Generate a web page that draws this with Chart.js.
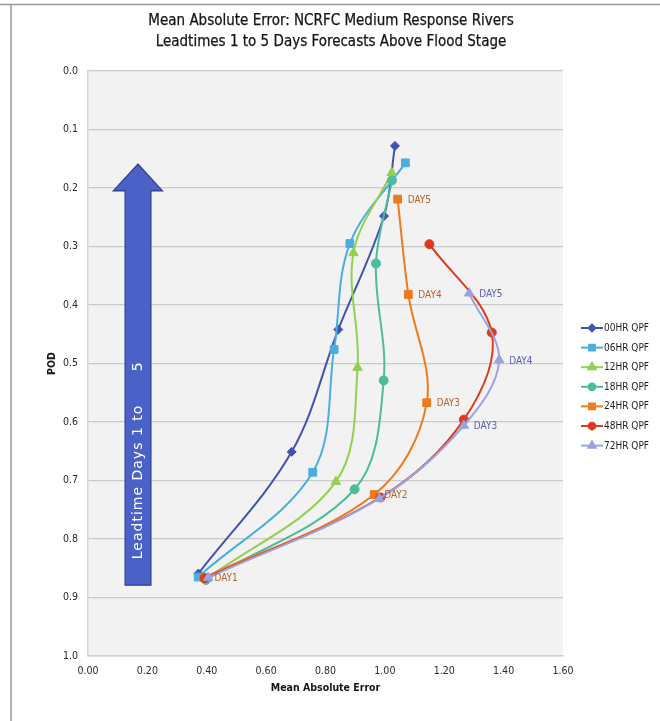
<!DOCTYPE html>
<html>
<head>
<meta charset="utf-8">
<script src="https://cdn.jsdelivr.net/npm/chart.js@4.4.1/dist/chart.umd.min.js"></script>
<style>
  html, body { margin: 0; padding: 0; background: #fff; }
  #wrap { width: 660px; height: 721px; position: relative; }
</style>
</head>
<body>
<div id="wrap"><canvas id="c" width="660" height="721"></canvas></div>
<script>
// Lead-time points are ordered DAY1 -> DAY5 (bottom to top of the chart).
const seriesNames = ['00HR QPF', '06HR QPF', '12HR QPF', '18HR QPF', '24HR QPF', '48HR QPF', '72HR QPF'];

const mae00 = [0.372, 0.686, 0.843, 0.997, 1.034];
const pod00 = [0.859, 0.651, 0.442, 0.248, 0.128];
const mae06 = [0.371, 0.757, 0.829, 0.882, 1.069];
const pod06 = [0.865, 0.686, 0.476, 0.295, 0.157];
const mae12 = [0.400, 0.835, 0.908, 0.894, 1.023];
const pod12 = [0.868, 0.702, 0.507, 0.311, 0.174];
const mae18 = [0.397, 0.898, 0.996, 0.970, 1.024];
const pod18 = [0.870, 0.715, 0.529, 0.329, 0.187];
const mae24 = [0.392, 0.964, 1.141, 1.079, 1.043];
const pod24 = [0.866, 0.724, 0.567, 0.382, 0.219];
const mae48 = [0.393, 0.985, 1.266, 1.360, 1.150];
const pod48 = [0.867, 0.729, 0.596, 0.447, 0.296];
const mae72 = [0.405, 0.981, 1.266, 1.385, 1.284];
const pod72 = [0.866, 0.731, 0.606, 0.494, 0.380];

const dayLabels24 = ['DAY1', 'DAY2', 'DAY3', 'DAY4', 'DAY5'];
const dayLabels72 = ['', '', 'DAY3', 'DAY4', 'DAY5'];

const xTickValues = [0, 0.2, 0.4, 0.6, 0.8, 1.0, 1.2, 1.4, 1.6];
const yTickValues = [0, 0.1, 0.2, 0.3, 0.4, 0.5, 0.6, 0.7, 0.8, 0.9, 1.0];

const maeSeries = [mae00, mae06, mae12, mae18, mae24, mae48, mae72];
const podSeries = [pod00, pod06, pod12, pod18, pod24, pod48, pod72];

const FONT = '"DejaVu Sans Condensed", "DejaVu Sans", sans-serif';
const colors = ['#4153b1', '#4aaede', '#92d050', '#4cbd9c', '#ee7a1e', '#df3a1f', '#9aa2e0'];
const styles = ['rectRot', 'rect', 'triangle', 'circle', 'rect', 'circle', 'triangle'];
const radii = [4.5, 5.5, 5.5, 4.5, 5.5, 4.5, 5.5];

const datasets = seriesNames.map((name, i) => ({
  label: name,
  data: maeSeries[i].map((x, k) => ({ x: x, y: podSeries[i][k] })),
  showLine: true,
  tension: 0.35,
  borderColor: colors[i],
  backgroundColor: colors[i],
  borderWidth: 2,
  pointStyle: styles[i],
  pointRadius: radii[i],
  pointHoverRadius: radii[i],
  pointBorderWidth: 1,
  order: seriesNames.length - 1 - i
}));

// Block arrow drawn inside the plot, in axis units
const arrowShape = { tipX: 0.168, tipY: 0.159, headL: 0.085, headR: 0.251, headBase: 0.205,
                     shaftL: 0.125, shaftR: 0.212, bottom: 0.879 };

const decor = {
  id: 'decor',
  beforeDraw(chart) {
    const { ctx, chartArea: a } = chart;
    ctx.save();
    ctx.fillStyle = '#ffffff';
    ctx.fillRect(0, 0, chart.width, chart.height);
    ctx.strokeStyle = '#999999';
    ctx.lineWidth = 1.5;
    ctx.beginPath();
    ctx.moveTo(0, 4.5); ctx.lineTo(chart.width, 4.5);
    ctx.moveTo(11, 4.5); ctx.lineTo(11, chart.height);
    ctx.stroke();
    ctx.fillStyle = '#f2f2f2';
    ctx.fillRect(a.left, a.top, a.right - a.left, a.bottom - a.top);
    ctx.restore();
  },
  beforeDatasetsDraw(chart) {
    const { ctx } = chart;
    const xs = chart.scales.x, ys = chart.scales.y;
    const X = v => xs.getPixelForValue(v), Y = v => ys.getPixelForValue(v);
    const s = arrowShape;
    ctx.save();
    ctx.beginPath();
    ctx.moveTo(X(s.tipX), Y(s.tipY));
    ctx.lineTo(X(s.headR), Y(s.headBase));
    ctx.lineTo(X(s.shaftR), Y(s.headBase));
    ctx.lineTo(X(s.shaftR), Y(s.bottom));
    ctx.lineTo(X(s.shaftL), Y(s.bottom));
    ctx.lineTo(X(s.shaftL), Y(s.headBase));
    ctx.lineTo(X(s.headL), Y(s.headBase));
    ctx.closePath();
    ctx.fillStyle = '#4a62c8';
    ctx.fill();
    ctx.strokeStyle = '#2f3e8e';
    ctx.lineWidth = 1.2;
    ctx.stroke();
    // rotated caption inside the shaft
    const cx = (X(s.shaftL) + X(s.shaftR)) / 2;
    ctx.translate(cx, Y(s.bottom) - 26);
    ctx.rotate(-Math.PI / 2);
    ctx.fillStyle = '#ffffff';
    ctx.font = '14px "DejaVu Sans", sans-serif';
    ctx.letterSpacing = '1px';
    ctx.textAlign = 'left';
    ctx.textBaseline = 'middle';
    ctx.fillText('Leadtime Days 1 to', 0, 0);
    ctx.fillText('5', 188, 0);
    ctx.restore();
  },
  afterDatasetsDraw(chart) {
    const { ctx } = chart;
    ctx.save();
    ctx.font = '10px ' + FONT;
    ctx.textAlign = 'left';
    ctx.textBaseline = 'middle';
    const put = (dsIndex, labels, color) => {
      const meta = chart.getDatasetMeta(dsIndex);
      ctx.fillStyle = color;
      labels.forEach((t, k) => {
        if (!t) return;
        const p = meta.data[k];
        ctx.fillText(t, p.x + 10, p.y + 1);
      });
    };
    put(4, dayLabels24, '#b8622a');
    put(6, dayLabels72, '#5c60b0');
    ctx.restore();
  },
  afterDraw(chart) {
    const { ctx, chartArea: a } = chart;
    ctx.save();
    // title
    ctx.fillStyle = '#151515';
    ctx.strokeStyle = '#151515';
    ctx.lineWidth = 0.25;
    ctx.textAlign = 'center';
    ctx.textBaseline = 'middle';
    ctx.font = '15px ' + FONT;
    ctx.fillText('Mean Absolute Error: NCRFC Medium Response Rivers', 331, 21);
    ctx.strokeText('Mean Absolute Error: NCRFC Medium Response Rivers', 331, 21);
    ctx.fillText('Leadtimes 1 to 5 Days Forecasts Above Flood Stage', 331, 42);
    ctx.strokeText('Leadtimes 1 to 5 Days Forecasts Above Flood Stage', 331, 42);
    // axis titles
    ctx.font = 'bold 10.5px ' + FONT;
    ctx.fillText('Mean Absolute Error', (a.left + a.right) / 2, 688);
    ctx.save();
    ctx.translate(52, (a.top + a.bottom) / 2);
    ctx.rotate(-Math.PI / 2);
    ctx.fillText('POD', 0, 0);
    ctx.restore();
    // legend
    const lx = a.right + 18, top = a.top + 257, step = 19.6;
    chart.data.datasets.forEach((ds, i) => {
      const y = top + i * step;
      ctx.strokeStyle = ds.borderColor;
      ctx.lineWidth = 2;
      ctx.beginPath();
      ctx.moveTo(lx, y); ctx.lineTo(lx + 22, y);
      ctx.stroke();
      ctx.fillStyle = ds.backgroundColor;
      Chart.helpers.drawPoint(ctx, { pointStyle: ds.pointStyle, radius: ds.pointRadius * 0.75, rotation: 0, borderWidth: 1 }, lx + 11, y);
      ctx.fillStyle = '#1e1e1e';
      ctx.font = '10px ' + FONT;
      ctx.textAlign = 'left';
      ctx.fillText(ds.label, lx + 23, y + 0.5);
    });
    ctx.restore();
  }
};

new Chart(document.getElementById('c'), {
  type: 'scatter',
  data: { datasets: datasets },
  options: {
    responsive: false,
    animation: false,
    devicePixelRatio: 1,
    layout: { padding: { top: 71, right: 97, left: 0, bottom: 0 } },
    plugins: { legend: { display: false }, title: { display: false }, tooltip: { enabled: false } },
    scales: {
      x: {
        type: 'linear', min: 0, max: 1.6,
        afterBuildTicks: s => { s.ticks = xTickValues.map(v => ({ value: v })); },
        ticks: { callback: v => Number(v).toFixed(2), font: { family: FONT, size: 10.5 }, color: '#2a2a2a', padding: 9, maxRotation: 0 },
        grid: { display: false, drawTicks: false },
        border: { display: true, color: '#d4d4d4', width: 1.5 },
        afterFit: s => { s.height = 65; }
      },
      y: {
        type: 'linear', min: 0, max: 1, reverse: true,
        afterBuildTicks: s => { s.ticks = yTickValues.map(v => ({ value: v })); },
        ticks: { callback: v => Number(v).toFixed(1), font: { family: FONT, size: 10.5 }, color: '#2a2a2a', padding: 10 },
        grid: { color: '#cacaca', lineWidth: 1.2, drawTicks: false },
        border: { display: true, color: '#d4d4d4', width: 1.5 },
        afterFit: s => { s.width = 88; }
      }
    }
  },
  plugins: [decor]
});
</script>
</body>
</html>
